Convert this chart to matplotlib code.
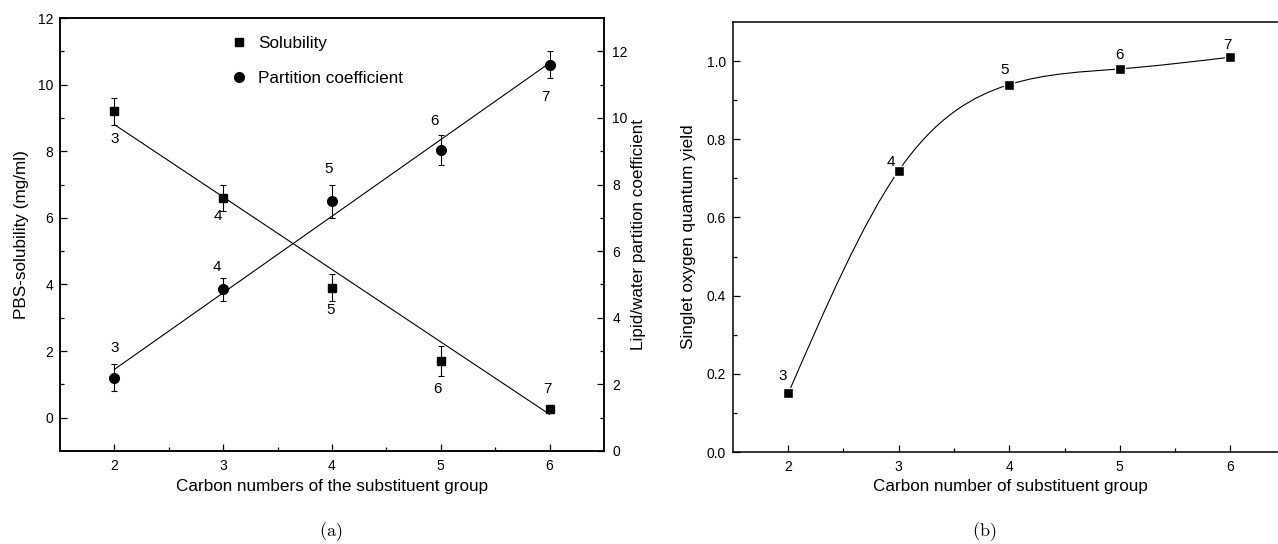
import matplotlib
matplotlib.use("Agg")
import matplotlib.pyplot as plt
import numpy as np
from matplotlib.path import Path
from matplotlib.patches import PathPatch
from matplotlib.lines import Line2D

# ---------------- data ----------------
carbon = [2, 3, 4, 5, 6]
compound_labels = ["3", "4", "5", "6", "7"]

solubility = [9.2, 6.6, 3.9, 1.7, 0.25]
solubility_err = [0.4, 0.4, 0.4, 0.45, 0.12]
solubility_fit_x = [2, 6]
solubility_fit_y = [8.8, 0.1]

partition = [2.2, 4.85, 7.5, 9.05, 11.6]
partition_err = [0.4, 0.35, 0.5, 0.45, 0.4]
partition_fit_x = [2, 6]
partition_fit_y = [2.45, 11.65]

quantum_yield = [0.15, 0.72, 0.94, 0.98, 1.01]

# ---------------- style ----------------
plt.rcParams['font.family'] = ['Liberation Sans', 'DejaVu Sans']
plt.rcParams['mathtext.fontset'] = 'cm'
W, H = 1278, 544
fig = plt.figure(figsize=(W / 100, H / 100), dpi=100)

TICK_FS = 10
LABEL_FS = 12.3
ANN_FS = 11


def style_axis(a):
    a.tick_params(which='both', direction='in', labelsize=TICK_FS, width=0.9)
    a.tick_params(which='major', length=5, pad=5)
    a.tick_params(which='minor', length=2.8)
    a.tick_params(top=False, which='both')
    for s in a.spines.values():
        s.set_linewidth(1.1)


# ---------------- panel (a) ----------------
ax = fig.add_axes([60 / W, 1 - 451 / H, (604 - 60) / W, (451 - 18) / H])
ax2 = ax.twinx()

ax.set_xlim(1.5, 6.5)
ax.set_ylim(-1, 12)
ax2.set_ylim(0, 13)

ax.set_xticks([2, 3, 4, 5, 6])
ax.set_xticks(np.arange(2.5, 6.0, 1.0), minor=True)
ax.set_yticks(np.arange(0, 13, 2))
ax.set_yticks(np.arange(1, 12, 2), minor=True)
ax2.set_yticks(np.arange(0, 13, 2))
ax2.set_yticks(np.arange(1, 13, 2), minor=True)

style_axis(ax)
style_axis(ax2)
ax.tick_params(axis='x', which='major', pad=6)
ax2.tick_params(axis='y', which='major', pad=6)
ax.tick_params(right=False, which='both')

ax.plot(solubility_fit_x, solubility_fit_y, color='k', lw=0.8, zorder=2)
ax2.plot(partition_fit_x, partition_fit_y, color='k', lw=0.8, zorder=2)

ax.errorbar(carbon, solubility, yerr=solubility_err, fmt='s', color='k',
            ms=6, capsize=2.5, elinewidth=0.8, capthick=0.8, zorder=3)
ax2.errorbar(carbon, partition, yerr=partition_err, fmt='o', color='k',
             ms=7, capsize=2.5, elinewidth=0.8, capthick=0.8, zorder=3)

sol_offsets = [(0, -28), (-5, -18), (-1, -22), (-3, -28), (-2, 20)]
par_offsets = [(0, 30), (-6, 22), (-3, 32), (-6, 29), (-4, -32)]
for xv, yv, lab, off in zip(carbon, solubility, compound_labels, sol_offsets):
    ax.annotate(lab, (xv, yv), xytext=off, textcoords='offset pixels',
                ha='center', va='center', fontsize=ANN_FS)
for xv, yv, lab, off in zip(carbon, partition, compound_labels, par_offsets):
    ax2.annotate(lab, (xv, yv), xytext=off, textcoords='offset pixels',
                 ha='center', va='center', fontsize=ANN_FS)

handles = [Line2D([], [], marker='s', color='k', ls='none', ms=6),
           Line2D([], [], marker='o', color='k', ls='none', ms=7)]
ax.legend(handles, ['Solubility', 'Partition coefficient'], frameon=False,
          loc='upper left', bbox_to_anchor=(0.285, 0.995), fontsize=12.3,
          handlelength=1.0, handletextpad=0.6, labelspacing=1.22)

ax.set_xlabel('Carbon numbers of the substituent group', fontsize=LABEL_FS)
ax.xaxis.set_label_coords(0.5, -(487 - 451) / 433)
ax.xaxis.label.set_va('center')
ax.set_ylabel('PBS-solubility (mg/ml)', fontsize=LABEL_FS)
ax.yaxis.set_label_coords((22 - 60) / 544, 0.5)
ax.yaxis.label.set_va('center')
ax2.set_ylabel('Lipid/water partition coefficient', fontsize=LABEL_FS)
ax2.yaxis.set_label_coords((638 - 60) / 544, 0.5)
ax2.yaxis.label.set_va('center')
ax2.yaxis.label.set_rotation(90)

# ---------------- panel (b) ----------------
bx = fig.add_axes([733 / W, 1 - 452 / H, 552.5 / W, (452 - 22) / H])
bx.set_xlim(1.5, 6.5)
bx.set_ylim(0, 1.1)
bx.set_xticks([2, 3, 4, 5, 6])
bx.set_xticks(np.arange(2.5, 6.6, 1.0), minor=True)
bx.set_yticks(np.arange(0, 1.01, 0.2))
bx.set_yticks(np.arange(0.1, 1.1, 0.2), minor=True)
bx.yaxis.set_major_formatter(matplotlib.ticker.FormatStrFormatter('%.1f'))
style_axis(bx)
bx.tick_params(axis='x', which='major', pad=6)
bx.tick_params(right=False, which='both')

# natural cubic spline through the data points, drawn as Bezier segments
xs = np.asarray(carbon, float)
ys = np.asarray(quantum_yield, float)
n = len(xs)
h = np.diff(xs)
A = np.zeros((n, n))
b = np.zeros(n)
A[0, 0] = A[-1, -1] = 1.0
for i in range(1, n - 1):
    A[i, i - 1] = h[i - 1]
    A[i, i] = 2 * (h[i - 1] + h[i])
    A[i, i + 1] = h[i]
    b[i] = 6 * ((ys[i + 1] - ys[i]) / h[i] - (ys[i] - ys[i - 1]) / h[i - 1])
M = np.linalg.solve(A, b)
verts = [(xs[0], ys[0])]
codes = [Path.MOVETO]
for i in range(n - 1):
    s = (ys[i + 1] - ys[i]) / h[i]
    d0 = s - h[i] * (2 * M[i] + M[i + 1]) / 6
    d1 = s + h[i] * (M[i] + 2 * M[i + 1]) / 6
    verts += [(xs[i] + h[i] / 3, ys[i] + d0 * h[i] / 3),
              (xs[i + 1] - h[i] / 3, ys[i + 1] - d1 * h[i] / 3),
              (xs[i + 1], ys[i + 1])]
    codes += [Path.CURVE4] * 3
bx.add_patch(PathPatch(Path(verts, codes), fill=False, edgecolor='k', lw=0.8, zorder=2))
bx.plot(carbon, quantum_yield, ls='none', marker='s', ms=7, mfc='k',
        mec='white', mew=1.0, zorder=3)

qy_offsets = [(-6, 17), (-8, 9), (-5, 15), (0, 14), (-3, 12)]
for xv, yv, lab, off in zip(carbon, quantum_yield, compound_labels, qy_offsets):
    bx.annotate(lab, (xv, yv), xytext=off, textcoords='offset pixels',
                ha='center', va='center', fontsize=ANN_FS)

bx.set_xlabel('Carbon number of substituent group', fontsize=LABEL_FS)
bx.xaxis.set_label_coords((1010 - 733) / 552.5, -(486 - 452) / 430)
bx.xaxis.label.set_va('center')
bx.set_ylabel('Singlet oxygen quantum yield', fontsize=LABEL_FS)
bx.yaxis.set_label_coords((689 - 733) / 552.5, 0.5)
bx.yaxis.label.set_va('center')

# sub-figure captions
fig.text(331 / W, 1 - 532 / H, r'$\mathrm{(a)}$', ha='center', va='center', fontsize=13)
fig.text(984 / W, 1 - 532 / H, r'$\mathrm{(b)}$', ha='center', va='center', fontsize=13)

fig.savefig('out.png', dpi=100)
